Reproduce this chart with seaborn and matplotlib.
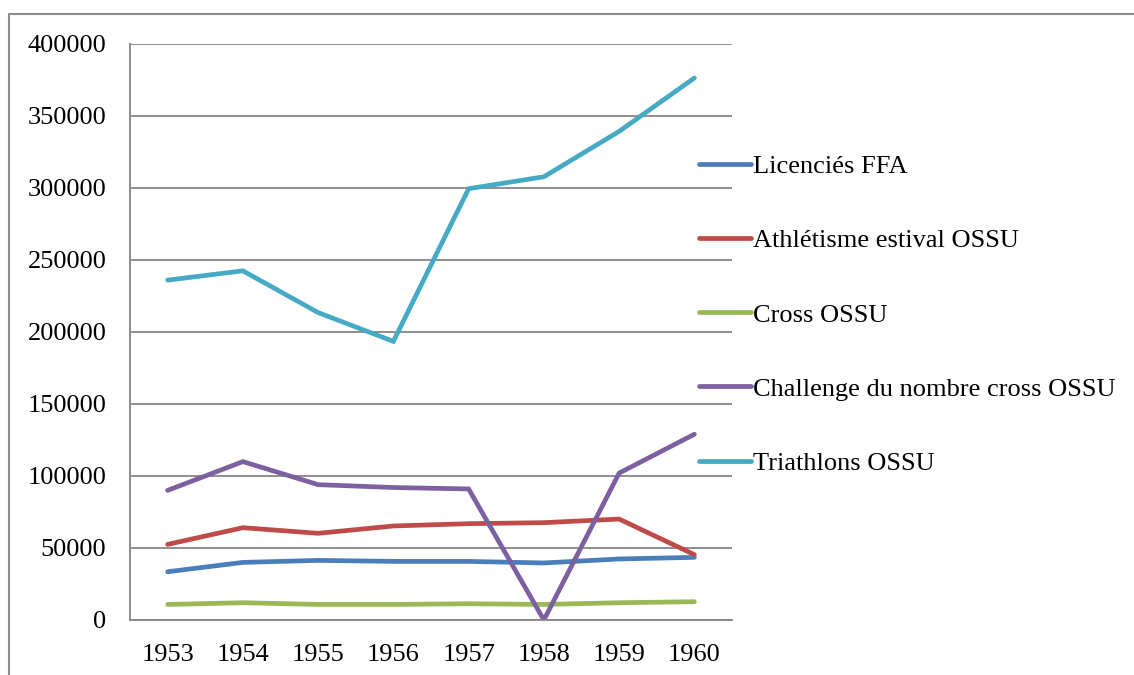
import pandas as pd
import seaborn as sns
import matplotlib
matplotlib.use("Agg")
import matplotlib.pyplot as plt
from matplotlib.lines import Line2D

years = ["1953", "1954", "1955", "1956", "1957", "1958", "1959", "1960"]
licencies_ffa = [33500, 40000, 41400, 40700, 40700, 39600, 42400, 43500]
athletisme_estival = [52500, 64100, 60200, 65300, 66900, 67600, 70100, 45400]
cross_ossu = [10800, 12000, 10800, 10800, 11300, 10800, 12000, 12700]
challenge_cross = [90000, 110000, 94000, 92000, 91000, 0, 102000, 129000]
triathlons = [236000, 242500, 213500, 193500, 299500, 307800, 339300, 376400]

series_names = ["Licenciés FFA", "Athlétisme estival OSSU", "Cross OSSU",
                "Challenge du nombre cross OSSU", "Triathlons OSSU"]
colors = ["#4A7EBB", "#BE4B48", "#98B954", "#7D60A0", "#46AAC5"]

df = pd.DataFrame({
    "year": years * 5,
    "idx": list(range(len(years))) * 5,
    "value": licencies_ffa + athletisme_estival + cross_ossu + challenge_cross + triathlons,
    "series": [n for n in series_names for _ in years],
})

sns.set_style("white")
plt.rcParams["font.family"] = ["Liberation Serif", "DejaVu Serif"]
plt.rcParams["text.color"] = "black"
plt.rcParams["xtick.color"] = "black"
plt.rcParams["ytick.color"] = "black"

FS = 19
LW = 3.4

fig = plt.figure(figsize=(11.34, 6.75), dpi=100)
ax = fig.add_axes([130 / 1134, 1 - 620 / 675, (732 - 130) / 1134, (620 - 44) / 675])

sns.lineplot(data=df, x="idx", y="value", hue="series", hue_order=series_names,
             palette=colors, linewidth=LW, ax=ax, legend=True)
for ln in ax.lines:
    ln.set_solid_capstyle("round")
    ln.set_solid_joinstyle("miter")

ax.set_xlim(-0.5, len(years) - 0.5)
ax.set_ylim(0, 400000)
ax.set_yticks(range(0, 400001, 50000))
ax.set_yticklabels([str(v) for v in range(0, 400001, 50000)], fontsize=FS)
ax.set_xticks(range(len(years)))
ax.set_xticklabels(years, fontsize=FS)
ax.set_xticks([i - 0.5 for i in range(len(years) + 1)], minor=True)
ax.tick_params(axis="x", which="major", length=0, pad=17, labelcolor="black")
ax.tick_params(axis="x", which="minor", length=7, width=1.2, color="#868686")
ax.tick_params(axis="y", length=5, width=1.2, color="#868686", pad=12, labelcolor="black")
ax.set_xlabel("")
ax.set_ylabel("")

ax.grid(axis="y", color="#868686", linewidth=1.3)
ax.set_axisbelow(True)
for side in ["top", "right"]:
    ax.spines[side].set_visible(False)
for side in ["left", "bottom"]:
    ax.spines[side].set_color("#868686")
    ax.spines[side].set_linewidth(1.3)

handles, labels = ax.get_legend_handles_labels()
leg = ax.legend(handles, labels, loc="upper left", bbox_to_anchor=(0.927, 0.826),
                frameon=False, fontsize=FS, handlelength=1.97, handletextpad=0.08,
                labelspacing=1.92, borderaxespad=0)
for h in leg.get_lines():
    h.set_linewidth(LW)
    h.set_solid_capstyle("round")
for t in leg.get_texts():
    t.set_color("black")

# outer chart border (only top and left are visible in the reference)
fig.add_artist(Line2D([9 / 1134, 1], [1 - 14 / 675, 1 - 14 / 675],
                      transform=fig.transFigure, color="#8c8c8c", linewidth=1.5))
fig.add_artist(Line2D([9 / 1134, 9 / 1134], [0, 1 - 14 / 675],
                      transform=fig.transFigure, color="#8c8c8c", linewidth=1.5))

fig.savefig("out.png", dpi=100)
